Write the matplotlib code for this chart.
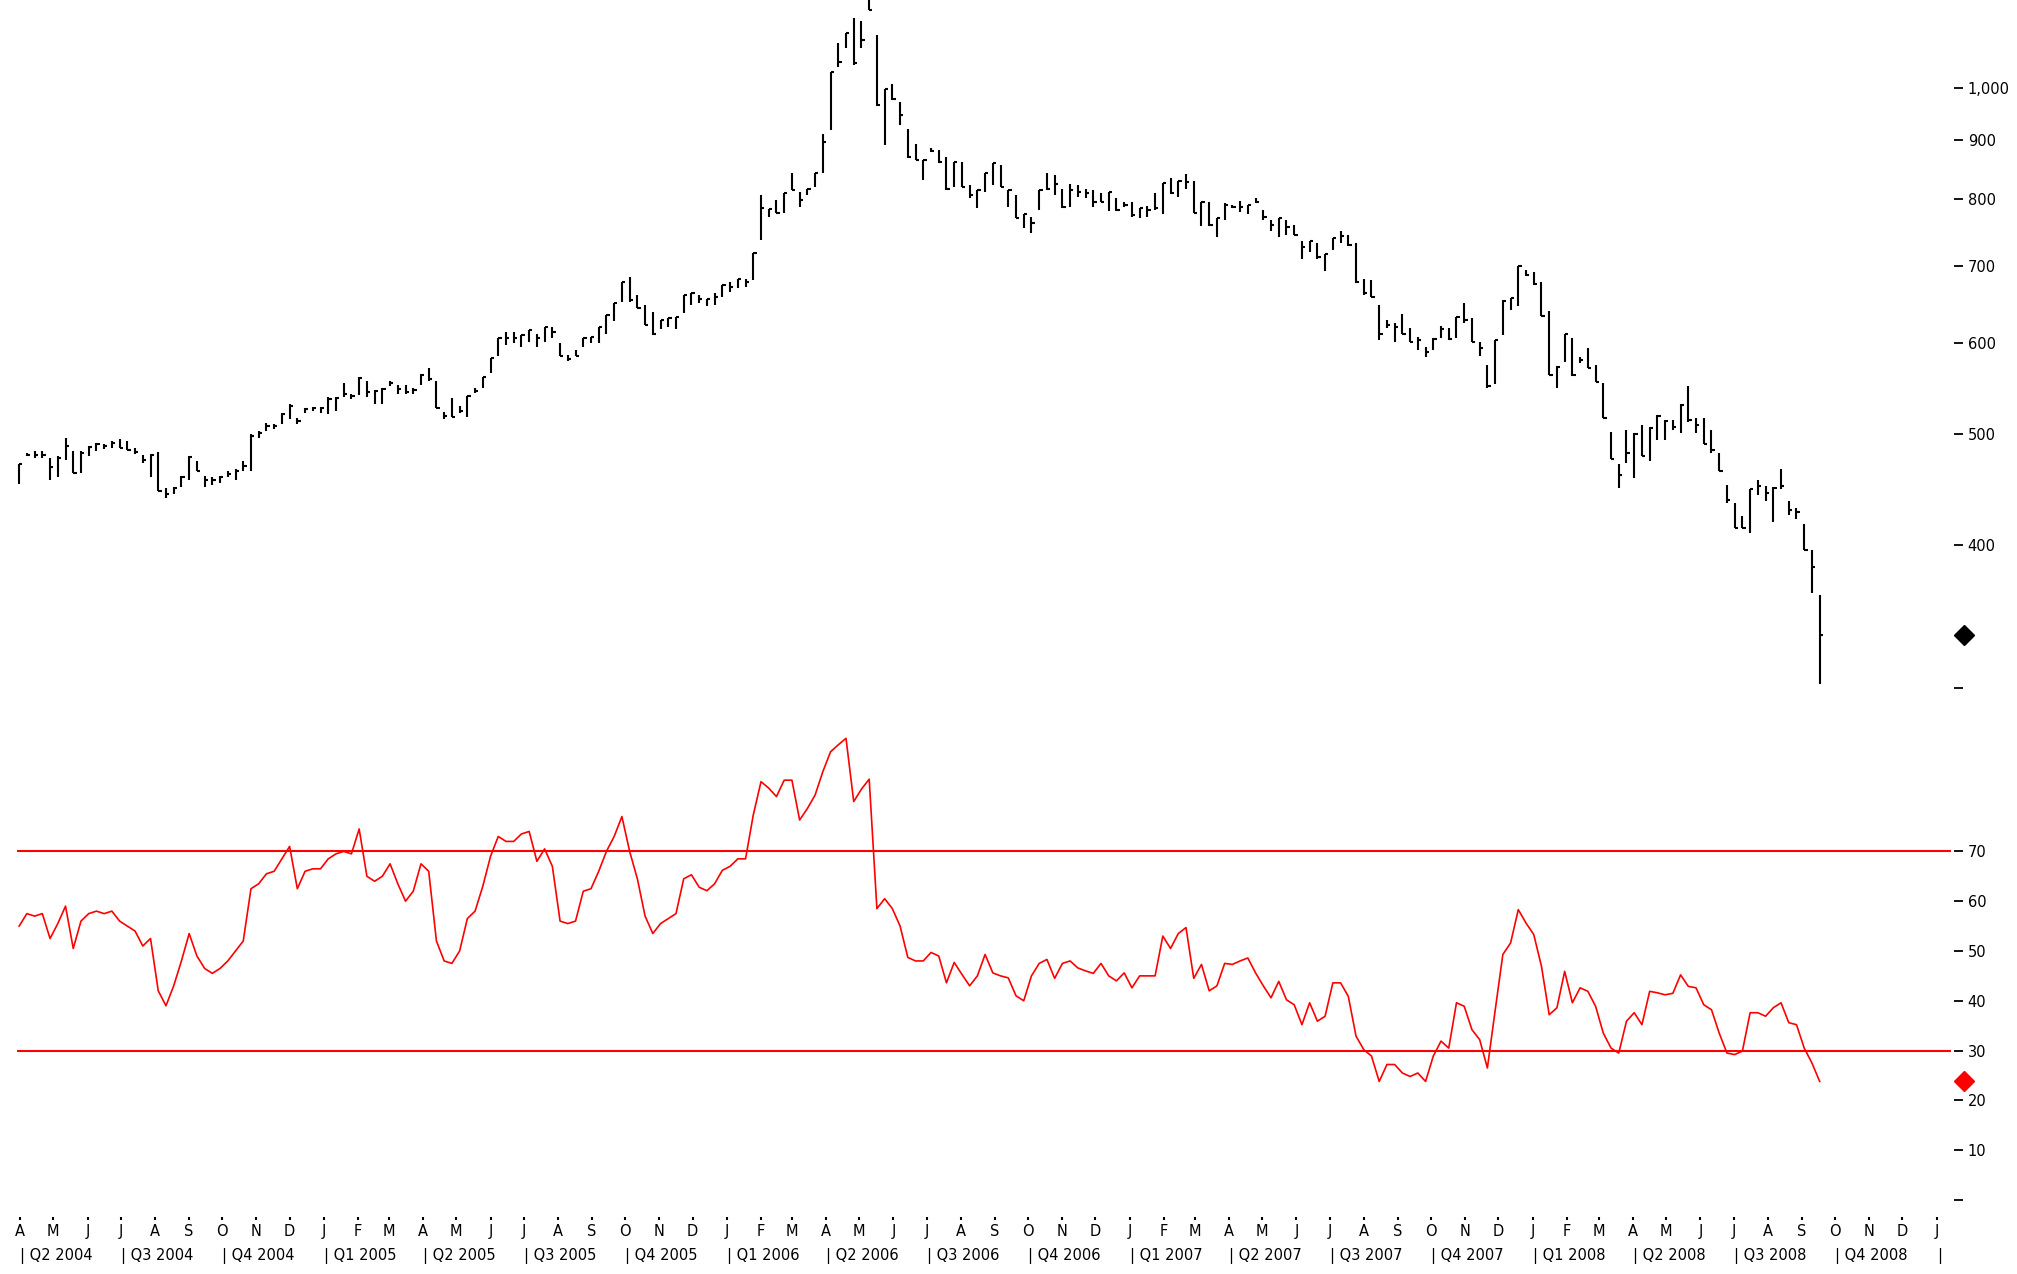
import pandas as pd
import matplotlib
matplotlib.use('Agg')
import matplotlib.pyplot as plt
import matplotlib.dates as mdates
import matplotlib.ticker as mticker

# weekly bars (high / low / close)
high = [470, 481, 483, 483, 476, 478, 496, 483, 483, 488, 491, 490, 493, 495, 493, 486, 479, 480, 482, 448,
        449, 459, 478, 473, 459, 458, 459, 464, 466, 473, 500, 503, 511, 510, 521, 530, 516, 526, 527, 527,
        538, 538, 553, 541, 560, 555, 546, 548, 555, 551, 551, 548, 563, 570, 555, 522, 537, 528, 539, 548,
        560, 582, 605, 613, 613, 609, 615, 611, 619, 619, 599, 585, 591, 605, 607, 619, 634, 650, 677, 684,
        660, 647, 638, 628, 630, 632, 660, 662, 660, 655, 662, 673, 678, 681, 682, 718, 806, 784, 798, 809,
        842, 812, 817, 842, 912, 1032, 1093, 1115, 1150, 1142, 1215, 1111, 998, 1008, 972, 921, 894, 865, 886, 882,
        870, 862, 862, 823, 815, 843, 860, 857, 815, 806, 777, 772, 815, 843, 840, 817, 825, 823, 817, 815,
        809, 812, 801, 796, 796, 785, 789, 809, 826, 834, 830, 841, 830, 796, 796, 770, 793, 791, 797, 791,
        801, 782, 767, 770, 767, 760, 735, 735, 732, 717, 740, 750, 745, 732, 681, 680, 647, 628, 624, 635,
        618, 607, 595, 605, 620, 618, 632, 649, 630, 601, 574, 603, 653, 656, 699, 694, 691, 678, 639, 572,
        611, 605, 583, 593, 574, 553, 502, 470, 504, 501, 509, 507, 519, 514, 514, 530, 550, 516, 516, 504,
        481, 451, 435, 424, 447, 456, 450, 449, 466, 437, 431, 417, 396, 362]
low = [452, 478, 476, 476, 456, 458, 474, 462, 462, 478, 483, 485, 486, 486, 484, 480, 471, 458, 446, 439,
       443, 449, 456, 464, 449, 451, 453, 458, 456, 464, 464, 496, 503, 505, 510, 515, 510, 521, 523, 521,
       520, 523, 538, 536, 540, 538, 531, 531, 550, 541, 541, 541, 551, 556, 526, 515, 517, 521, 517, 542,
       548, 565, 584, 597, 599, 595, 601, 595, 601, 605, 584, 578, 584, 595, 599, 599, 611, 626, 651, 651,
       643, 622, 609, 617, 619, 617, 636, 647, 649, 645, 647, 657, 664, 669, 671, 680, 737, 772, 778, 778,
       815, 788, 806, 820, 842, 918, 1043, 1083, 1047, 1083, 1169, 963, 891, 975, 928, 868, 865, 831, 879, 859,
       815, 820, 820, 801, 785, 812, 823, 820, 788, 770, 755, 748, 782, 815, 806, 786, 788, 804, 801, 788,
       796, 781, 781, 788, 772, 770, 772, 783, 777, 808, 804, 817, 778, 758, 758, 741, 767, 785, 779, 777,
       793, 767, 750, 741, 745, 745, 710, 720, 710, 693, 723, 732, 728, 676, 660, 658, 603, 618, 601, 611,
       601, 591, 583, 591, 605, 603, 605, 624, 601, 584, 548, 552, 609, 641, 645, 685, 674, 633, 562, 548,
       577, 561, 576, 570, 554, 516, 475, 448, 471, 457, 478, 473, 494, 494, 504, 501, 512, 501, 490, 481,
       464, 435, 414, 414, 410, 442, 437, 419, 447, 425, 421, 396, 363, 303]
close = [470, 479, 479, 479, 468, 476, 488, 462, 481, 487, 490, 488, 491, 486, 484, 482, 474, 479, 446, 443,
         448, 458, 477, 464, 456, 456, 458, 461, 464, 469, 498, 501, 508, 508, 520, 528, 513, 525, 526, 526,
         536, 537, 541, 539, 559, 543, 545, 547, 553, 547, 543, 546, 562, 558, 526, 518, 517, 523, 539, 544,
         560, 582, 605, 605, 605, 609, 615, 605, 619, 613, 584, 581, 584, 605, 607, 619, 634, 650, 677, 653,
         643, 622, 611, 628, 630, 632, 660, 662, 655, 655, 657, 673, 671, 681, 678, 718, 785, 784, 778, 809,
         815, 798, 817, 842, 897, 1032, 1053, 1115, 1050, 1100, 1169, 965, 998, 978, 947, 870, 865, 865, 881, 862,
         816, 862, 820, 806, 815, 843, 860, 820, 815, 770, 777, 762, 815, 817, 825, 787, 815, 812, 809, 795,
         796, 812, 783, 791, 775, 785, 783, 785, 826, 809, 830, 828, 778, 796, 759, 770, 791, 788, 787, 791,
         796, 772, 759, 770, 757, 745, 727, 735, 712, 717, 740, 743, 729, 678, 662, 658, 611, 622, 619, 611,
         601, 603, 589, 604, 616, 604, 631, 628, 601, 593, 550, 603, 652, 656, 699, 687, 675, 633, 562, 571,
         610, 562, 579, 570, 554, 516, 475, 460, 481, 500, 478, 506, 518, 513, 507, 529, 514, 509, 490, 484,
         464, 438, 414, 414, 447, 450, 444, 448, 450, 429, 427, 396, 383, 334]
rsi = [55, 57.5, 57, 57.5, 52.5, 55.5, 59, 50.5, 56, 57.5, 58, 57.5, 58, 56, 55, 54, 51, 52.5, 42, 39,
       43, 48, 53.5, 49, 46.5, 45.5, 46.5, 48, 50, 52, 62.5, 63.5, 65.5, 66, 68.5, 71, 62.5, 66, 66.5, 66.5,
       68.5, 69.5, 70, 69.5, 74.5, 65, 64, 65, 67.5, 63.5, 60, 62, 67.5, 66, 52, 48, 47.5, 50, 56.5, 58,
       63, 69, 73, 72, 72, 73.5, 74, 68, 70.5, 67, 56, 55.5, 56, 62, 62.5, 66, 70, 73, 77, 70,
       64.5, 57, 53.5, 55.5, 56.5, 57.5, 64.5, 65.3, 62.8, 62.1, 63.5, 66.2, 67, 68.5, 68.5, 77.3, 84, 82.7, 81, 84.3,
       84.3, 76.3, 78.6, 81.3, 86, 90, 91.4, 92.7, 80, 82.5, 84.5, 58.5, 60.5, 58.5, 55, 48.7, 48, 48, 49.7, 49,
       43.6, 47.7, 45.3, 43, 45, 49.3, 45.6, 45, 44.6, 41, 40, 45, 47.5, 48.3, 44.5, 47.5, 48, 46.6, 46, 45.5,
       47.5, 45, 44, 45.6, 42.6, 45, 45, 45, 53, 50.5, 53.5, 54.7, 44.5, 47.3, 42, 43, 47.5, 47.3, 48, 48.6,
       45.6, 43, 40.6, 43.9, 40.2, 39.2, 35.2, 39.6, 35.9, 36.9, 43.6, 43.6, 40.9, 32.9, 30.2, 28.9, 23.8, 27.2, 27.2, 25.5,
       24.8, 25.5, 23.8, 28.9, 31.9, 30.5, 39.6, 38.9, 34.2, 32.2, 26.5, 38, 49.3, 51.6, 58.3, 55.6, 53.3, 46.9, 37.2, 38.6,
       45.9, 39.6, 42.6, 41.9, 38.9, 33.5, 30.5, 29.5, 35.9, 37.6, 35.2, 41.9, 41.6, 41.2, 41.5, 45.2, 42.9, 42.6, 39.2, 38.2,
       33.5, 29.5, 29.2, 29.9, 37.6, 37.6, 36.9, 38.6, 39.6, 35.6, 35.2, 30.5, 27.5, 23.8]

weeks = pd.date_range('2004-03-31', periods=len(close), freq='7D').to_pydatetime()
tick_end = pd.date_range('2004-04-03', periods=len(close), freq='7D').to_pydatetime()

price_ticks = [300, 400, 500, 600, 700, 800, 900, 1000]
price_labels = ['', '400', '500', '600', '700', '800', '900', '1,000']
rsi_ticks = [0, 10, 20, 30, 40, 50, 60, 70]
rsi_labels = ['', '10', '20', '30', '40', '50', '60', '70']
rsi_levels = [70, 30]

fig = plt.figure(figsize=(20.17, 12.74), dpi=100)
ax = fig.add_axes([0.0084, 0.449, 0.9589, 0.551])
ax2 = fig.add_axes([0.0084, 0.0581, 0.9589, 0.3909], sharex=ax)

# price bars (high-low line + close tick on the right)
ax.vlines(weeks, low, high, color='black', lw=1.5)
ax.hlines(close, weeks, tick_end, color='black', lw=1.5)
ax.set_yscale('log')
ax.set_ylim(292, 1192)
ax.plot([1.0067], [close[-1]], marker='D', color='black', ms=10,
        transform=ax.get_yaxis_transform(), clip_on=False)

# rsi panel
ax2.plot(weeks, rsi, color='red', lw=1.2)
for lvl in rsi_levels:
    ax2.axhline(lvl, color='red', lw=1.5)
ax2.set_ylim(0, 100)
ax2.plot([1.0067], [rsi[-1]], marker='D', color='red', ms=10,
         transform=ax2.get_yaxis_transform(), clip_on=False)

for a, tks, lbls in [(ax, price_ticks, price_labels), (ax2, rsi_ticks, rsi_labels)]:
    for s in a.spines.values():
        s.set_visible(False)
    a.spines['right'].set_position(('outward', 2))
    a.yaxis.tick_right()
    a.yaxis.set_major_locator(mticker.FixedLocator(tks))
    a.yaxis.set_major_formatter(mticker.FixedFormatter(lbls))
    a.yaxis.set_minor_locator(mticker.NullLocator())
    a.tick_params(axis='y', which='major', direction='out', length=6.5, width=1.3,
                  pad=3.5, labelsize=10.5)

ax.tick_params(axis='x', which='both', bottom=False, labelbottom=False)
ax2.set_xlim(pd.Timestamp('2004-03-29'), pd.Timestamp('2009-01-14'))

ax2.spines['bottom'].set_position(('outward', 12))
ax2.xaxis.set_major_locator(mdates.MonthLocator())
ax2.xaxis.set_major_formatter(mticker.FuncFormatter(lambda x, pos: mdates.num2date(x).strftime('%b')[0]))
ax2.xaxis.set_minor_locator(mticker.NullLocator())
ax2.tick_params(axis='x', which='major', direction='out', length=2.5, width=1.5,
                pad=3, labelsize=10.5)

# quarter labels under the month letters
quarters = pd.date_range('2004-04-01', '2008-10-01', freq='QS')
for q in quarters:
    ax2.text(q.to_pydatetime(), -0.096, '| Q%d %d' % (q.quarter, q.year),
             transform=ax2.get_xaxis_transform(), ha='left', va='top', fontsize=10.5)
ax2.text(pd.Timestamp('2009-01-01').to_pydatetime(), -0.096, '|',
         transform=ax2.get_xaxis_transform(), ha='left', va='top', fontsize=10.5)

fig.savefig('out.png', dpi=100, facecolor='white')
